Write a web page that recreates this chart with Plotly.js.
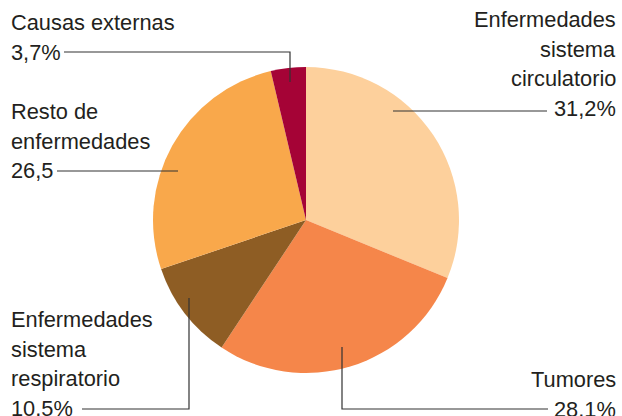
<!DOCTYPE html>
<html>
<head>
<meta charset="utf-8">
<script src="https://cdn.plot.ly/plotly-3.0.1.min.js"></script>
<style>html,body{margin:0;padding:0;background:#fff;}#chart{width:622px;height:416px;}</style>
</head>
<body>
<div id="chart"></div>
<script>
// ---- data ----
var categories = ["Enfermedades sistema circulatorio", "Tumores", "Enfermedades sistema respiratorio", "Resto de enfermedades", "Causas externas"];
var values = [31.2, 28.1, 10.5, 26.5, 3.7];
var labelLines = [["Enfermedades", "sistema", "circulatorio"], ["Tumores"], ["Enfermedades", "sistema", "respiratorio"], ["Resto de", "enfermedades"], ["Causas externas"]];
var valueSuffix = ["%", "%", "%", "", "%"];
var colors = ["#FDD09C", "#F5864A", "#8E5D24", "#F9A84B", "#A50336"];

// ---- layout helpers (pixel positions) ----
var W = 622, H = 416;
function px(x) { return x / W; }
function py(y) { return 1 - y / H; }
// label blocks: x, first-line baseline, alignment
var labelPos = [
  {x: 618, base: 27, align: "right"},
  {x: 618, base: 387, align: "right"},
  {x: 9, base: 327, align: "left"},
  {x: 9, base: 119, align: "left"},
  {x: 9, base: 30, align: "left"}
];
var lineGap = 29.7;
var FS = 21.8;
// leader line paths (pixels)
var leaders = [
  [[547, 111], [393, 111]],
  [[548, 409], [342, 409], [342, 347]],
  [[82, 409], [189, 409], [189, 298]],
  [[57, 171], [178, 171]],
  [[64, 52], [290, 52], [290, 82]]
];

var annotations = [];
categories.forEach(function (c, i) {
  var lines = labelLines[i].concat([values[i].toFixed(1).replace(".", ",") + valueSuffix[i]]);
  var p = labelPos[i];
  lines.forEach(function (t, k) {
    var base = p.base + k * lineGap;
    annotations.push({
      text: t, xref: "paper", yref: "paper",
      x: px(p.x), y: py(base - 7.5),
      xanchor: p.align, yanchor: "middle", showarrow: false,
      font: {family: "Liberation Sans, Arial, sans-serif", size: FS, color: "#231F20"}
    });
  });
});

var shapes = leaders.map(function (pts) {
  var d = pts.map(function (pt, k) { return (k ? "L" : "M") + px(pt[0]) + "," + py(pt[1]); }).join(" ");
  return {type: "path", xref: "paper", yref: "paper", path: d, line: {color: "#333333", width: 1.2}};
});

var trace = {
  type: "pie",
  labels: categories,
  values: values,
  sort: false,
  direction: "clockwise",
  rotation: 0,
  marker: {colors: colors, line: {width: 0}},
  textinfo: "none",
  hoverinfo: "none",
  showlegend: false,
  domain: {x: [px(153), px(459)], y: [py(373), py(67)]}
};

var layout = {
  width: W, height: H,
  margin: {l: 0, r: 0, t: 0, b: 0},
  paper_bgcolor: "#ffffff",
  showlegend: false,
  annotations: annotations,
  shapes: shapes
};

Plotly.newPlot("chart", [trace], layout, {displayModeBar: false, staticPlot: true});
</script>
</body>
</html>
